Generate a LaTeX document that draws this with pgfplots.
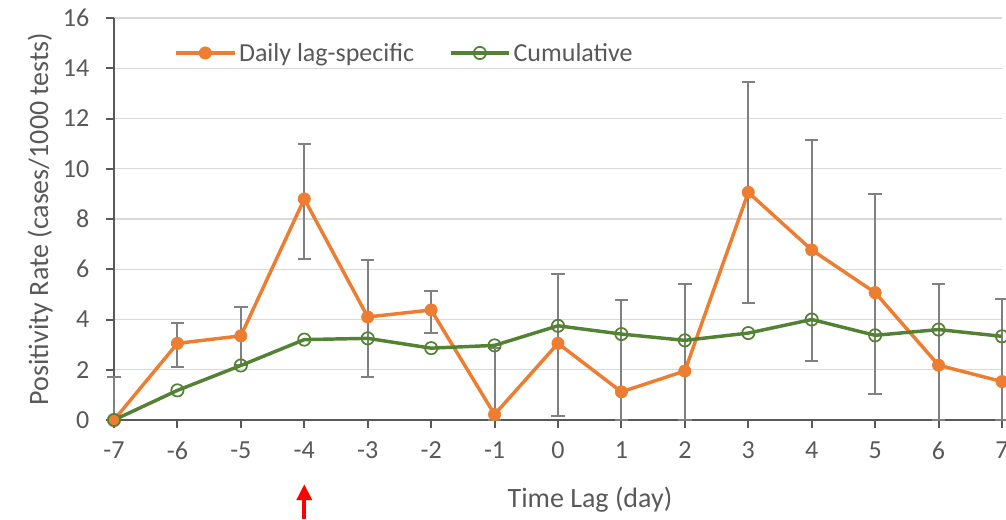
\documentclass[border=0pt]{standalone}
\usepackage{pgfplots}
\pgfplotsset{compat=1.18}
\usepackage{pgfplotstable}
\usepackage{fontspec}
\setmainfont{Carlito}
\usetikzlibrary{arrows.meta}
\definecolor{dorange}{HTML}{ED7D31}
\definecolor{dgreen}{HTML}{548235}
\definecolor{txtgray}{HTML}{595959}
\definecolor{gridgray}{HTML}{D9D9D9}
\definecolor{errgray}{HTML}{808080}

\pgfplotstableread{
x y ep em
-7 0 1.7 0
-6 3.05 0.8 0.93
-5 3.35 1.14 1.15
-4 8.8 2.2 2.4
-3 4.1 2.25 2.38
-2 4.38 0.77 0.9
-1 0.22 2.65 0.22
0 3.05 2.77 2.88
1 1.12 3.66 1.12
2 1.95 3.45 1.95
3 9.06 4.39 4.41
4 6.77 4.38 4.42
5 5.07 3.92 4.03
6 2.18 3.24 2.18
7 1.53 3.29 1.53
}\daily

\pgfplotstableread{
x y
-7 0
-6 1.18
-5 2.17
-4 3.2
-3 3.25
-2 2.86
-1 2.97
0 3.75
1 3.42
2 3.17
3 3.46
4 4.0
5 3.37
6 3.6
7 3.33
}\cumul

\begin{document}
\begin{tikzpicture}
\begin{axis}[
  at={(0,0)}, anchor=south west,
  scale only axis, width=666pt, height=301.5pt,
  xmin=-7, xmax=7, ymin=0, ymax=16,
  xtick={-7,-6,...,7}, ytick={0,2,...,16},
  axis x line*=bottom, axis y line*=left,
  ymajorgrids, grid style={gridgray, line width=1pt},
  axis line style={txtgray, line width=1.5pt},
  tick style={txtgray, line width=1.5pt},
  tick align=outside, major tick length=6pt,
  tick label style={font=\fontsize{19.5}{22}\selectfont, text=txtgray},
  yticklabel style={xshift=-9pt},
  xticklabel style={yshift=-7pt},
  /pgf/number format/assume math mode=true,
  xlabel={Time Lag (day)},
  ylabel={Positivity Rate (cases/1000 tests)},
  label style={font=\fontsize{21}{24}\selectfont, text=txtgray},
  xlabel style={at={(axis description cs:0.536,0)}, anchor=center, yshift=-60pt},
  ylabel style={at={(axis description cs:-0.0833,0.5)}, anchor=center, rotate=0},
  clip=false,
  legend columns=2,
  legend style={draw=none, fill=none, at={(axis description cs:0.063,0.913)}, anchor=west,
    font=\fontsize{19.5}{22}\selectfont, text=txtgray,
    /tikz/every even column/.append style={column sep=24pt}},
  legend image code/.code={\draw[mark repeat=2,mark phase=2] plot coordinates {(0pt,0pt) (22pt,0pt) (44pt,0pt)};},
]
\addplot[dorange, line width=2.6pt, mark=*, mark size=4.6pt, mark options={line width=0.5pt, fill=dorange},
  error bars/.cd, y dir=both, y explicit,
  error bar style={errgray, line width=1.5pt},
  error mark options={errgray, line width=1.5pt, mark size=5pt, rotate=90}]
  table[x=x, y=y, y error plus=ep, y error minus=em]{\daily};
\addlegendentry{Daily lag-specific}
\addplot[dgreen, line width=2.6pt, mark=o, mark size=4.6pt, mark options={line width=1.3pt, fill=white}]
  table[x=x, y=y]{\cumul};
\addlegendentry{Cumulative}
\draw[red, line width=3pt, -{Triangle[length=12pt,width=11pt]}] (axis cs:-4,-3.95) -- (axis cs:-4,-2.55);
\end{axis}
\pgfresetboundingbox
\useasboundingbox (-85.5pt,-74.25pt) rectangle (669pt,315pt);
\end{tikzpicture}
\end{document}
